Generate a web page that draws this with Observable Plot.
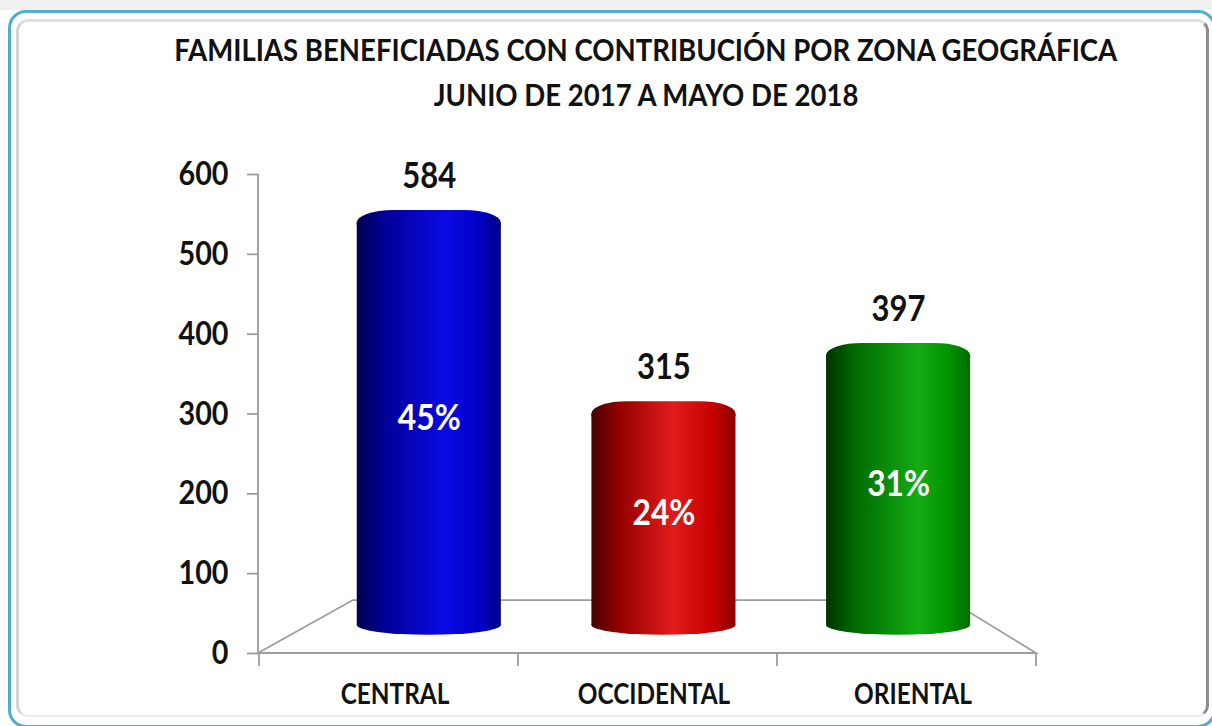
<!DOCTYPE html>
<html>
<head>
<meta charset="utf-8">
<script src="https://cdn.jsdelivr.net/npm/d3@7"></script>
<script src="https://cdn.jsdelivr.net/npm/@observablehq/plot@0.6"></script>
<style>
  html, body { margin: 0; padding: 0; background: #ffffff; width: 1212px; height: 726px; overflow: hidden; }
  body { font-family: Lato, "Open Sans", "DejaVu Sans Condensed", sans-serif; }
  #topband { position: absolute; left: 0; top: 0; width: 1212px; height: 10px; background: #f0f0f0; }
  #frame { position: absolute; left: 8px; top: 10px; width: 1208px; height: 718px; border: 3px solid #4eaecb; border-radius: 18px; box-sizing: border-box; background: #fff; }
  #inner { position: absolute; left: 16px; top: 19px; width: 1193px; height: 698px; border-top: 3px solid #e0e0e0; border-left: 3px solid #d4d4d4; border-right: 3px solid #8e8e8e; border-bottom: 2px solid #ececec; border-radius: 12px; box-sizing: border-box; }
  .tline { position: absolute; left: 0; width: 1292px; text-align: center; white-space: nowrap; font-weight: bold; font-size: 31px; line-height: 44px; color: #111; }
  .tline span { display: inline-block; transform-origin: 50% 50%; }
  #t1 { top: 27px; }
  #t2 { top: 72px; }
  #chart { position: absolute; left: 0; top: 130px; }
</style>
</head>
<body>
<div id="topband"></div>
<div id="frame"></div>
<div id="inner"></div>
<div class="tline" id="t1"><span>FAMILIAS BENEFICIADAS CON CONTRIBUCIÓN POR ZONA GEOGRÁFICA</span></div>
<div class="tline" id="t2"><span>JUNIO DE 2017 A MAYO DE 2018</span></div>
<div id="chart"></div>
<script>
// ---- data ----
const zonas = ["CENTRAL", "OCCIDENTAL", "ORIENTAL"];
const familias = [584, 315, 397];
const porcentajes = ["45%", "24%", "31%"];
const yTicks = [0, 100, 200, 300, 400, 500, 600];

// ---- styles ----
const zoneGradients = [
  [["0", "#00004e"], ["0.18", "#000096"], ["0.62", "#0a0ae4"], ["0.86", "#0000c4"], ["1", "#000080"]],
  [["0", "#480000"], ["0.2", "#960000"], ["0.56", "#e01c1c"], ["0.84", "#c80000"], ["1", "#880000"]],
  [["0", "#003400"], ["0.2", "#006a00"], ["0.64", "#14ac14"], ["0.86", "#009200"], ["1", "#006c00"]]
];
const barPlane = {tx: 76.8, ty: 29.5, sx: 0.906, sy: 0.89};
const backPlane = {tx: 155, ty: 68.9, s: 0.767};
const condense = 0.87;   // horizontal squeeze of the bold labels (condensed look)
const fontStack = 'Lato, "Open Sans", "DejaVu Sans Condensed", sans-serif';

const data = zonas.map((z, i) => ({zona: z, valor: familias[i], pct: porcentajes[i]}));

const defsMark = () => {
  const defs = d3.create("svg:defs");
  zoneGradients.forEach((stops, i) => {
    const g = defs.append("linearGradient").attr("id", "grad" + i)
      .attr("x1", 0).attr("x2", 1).attr("y1", 0).attr("y2", 0);
    stops.forEach(([o, c]) => g.append("stop").attr("offset", o).attr("stop-color", c));
  });
  return defs.node();
};

function floorMark(index, scales, values, dims) {
  const x = scales.x, y = scales.y;
  const left = dims.marginLeft, right = dims.width - dims.marginRight;
  const y0 = y(0), yTop = y(yTicks[yTicks.length - 1]);
  const edges = zonas.map(z => x(z)).concat([right]);
  const bp = (px, py) => [backPlane.tx + backPlane.s * px, backPlane.ty + backPlane.s * py];
  const [blx, bly] = bp(left, y0), [brx, bry] = bp(right, y0);
  const g = d3.create("svg:g").attr("fill", "none").attr("stroke", "#9c9c9c").attr("stroke-width", 1.8);
  g.append("path").attr("d", `M${left},${yTop}V${y0}H${right}L${brx},${bry}H${blx}L${left},${y0}`);
  edges.forEach(e => g.append("path").attr("d", `M${e},${y0}v13`));
  return g.node();
}

const inset = 50;
const cylinders = data.flatMap((d, i) => {
  const fill = `url(#grad${i})`;
  const dd = [d];
  return [
    Plot.barY(dd, {x: "zona", y1: 0, y2: 0, insetTop: -11, insetBottom: -11, insetLeft: inset, insetRight: inset, rx: 80, ry: 11, fill}),
    Plot.barY(dd, {x: "zona", y1: 0, y2: "valor", insetTop: 14, insetLeft: inset, insetRight: inset, fill}),
    Plot.barY(dd, {x: "zona", y1: "valor", y2: "valor", insetBottom: -30, insetLeft: inset, insetRight: inset, rx: 40, ry: 14, fill})
  ];
});

const svg = Plot.plot({
  width: 1212,
  height: 596,
  marginLeft: 258,
  marginRight: 176,
  marginTop: 44,
  marginBottom: 73,
  style: {background: "transparent", overflow: "visible", fontFamily: fontStack, color: "#111"},
  x: {type: "band", domain: zonas, padding: 0, label: null},
  y: {domain: [0, 600], label: null},
  marks: [
    defsMark,
    floorMark,
    Plot.axisY({ticks: yTicks, tickSize: 11, tickPadding: 19, fontSize: 33, fontWeight: "bold", stroke: "#9c9c9c", strokeWidth: 1.8, fill: "#111", label: null}),
    Plot.axisX({tickSize: 0, tickPadding: 31, fontSize: 28, fontWeight: "bold", dx: 6, fill: "#111", label: null}),
    ...cylinders,
    Plot.text(data, {x: "zona", y: "valor", text: d => String(d.valor), dy: -38, fontSize: 40, fontWeight: "bold", fill: "#111"}),
    Plot.text(data, {x: "zona", y: d => d.valor / 2, text: "pct", fontSize: 41, fontWeight: "bold", fill: "#fff"})
  ]
});

// place the cylinders and their labels on the 3-D depth plane
const root = d3.select(svg);
const plane = root.append("g")
  .attr("transform", `translate(${barPlane.tx},${barPlane.ty}) scale(${barPlane.sx},${barPlane.sy})`);
root.selectAll('g[aria-label="bar"], g[aria-label="text"]').each(function() { plane.node().appendChild(this); });

// condensed look for all labels
root.selectAll("text").each(function() {
  const inPlane = plane.node().contains(this);
  const k = inPlane ? condense * barPlane.sy / barPlane.sx : condense;
  const t = this.getAttribute("transform") || "";
  this.setAttribute("transform", `${t} scale(${k},1)`);
});

document.getElementById("chart").appendChild(svg);

// fit the title to the reference width
const s1 = document.querySelector("#t1 span");
const k1 = 943 / s1.getBoundingClientRect().width;
document.querySelectorAll(".tline span").forEach(s => s.style.transform = `scaleX(${k1})`);
</script>
</body>
</html>
